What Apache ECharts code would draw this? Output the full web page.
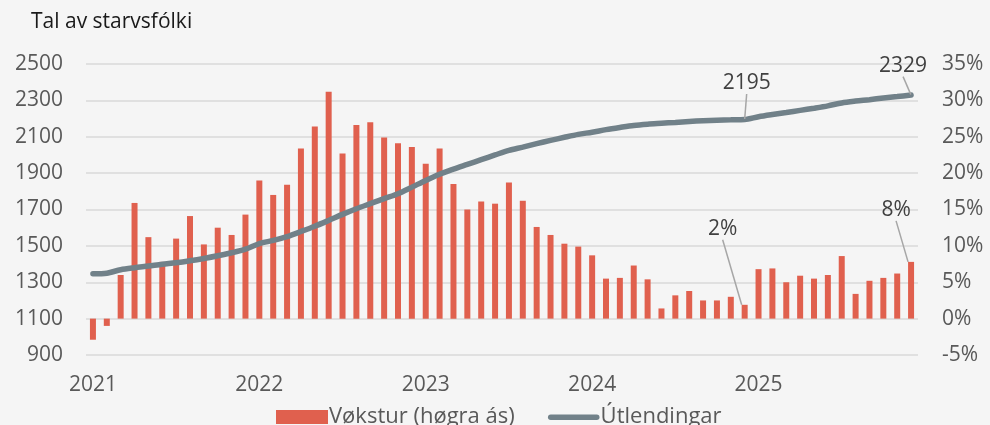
<!DOCTYPE html>
<html>
<head>
<meta charset="utf-8">
<script src="https://cdn.jsdelivr.net/npm/echarts@6/dist/echarts.min.js"></script>
<style>
  html, body { margin: 0; padding: 0; background: #f5f5f5; }
  #chart { width: 990px; height: 425px; }
</style>
</head>
<body>
<div id="chart"></div>
<script>
// ár og mánaðir
var years = ["2021", "2022", "2023", "2024", "2025"];
var months = ["01", "02", "03", "04", "05", "06", "07", "08", "09", "10", "11", "12"];

// vøkstur í % (høgra ás)
var growth = [
  -2.9, -1.0, 6.0, 15.9, 11.2, 7.8, 11.0, 14.1, 10.2, 12.5, 11.5, 14.3,
  19.0, 17.0, 18.4, 23.4, 26.4, 31.2, 22.7, 26.6, 27.0, 24.9, 24.1, 23.6,
  21.3, 23.4, 18.5, 15.0, 16.1, 15.8, 18.7, 16.2, 12.6, 11.5, 10.3, 9.9,
  8.7, 5.5, 5.6, 7.3, 5.4, 1.4, 3.2, 3.8, 2.5, 2.5, 3.0, 1.9,
  6.8, 6.9, 5.0, 5.9, 5.5, 6.0, 8.6, 3.4, 5.2, 5.6, 6.2, 7.8
];

// útlendingar (vinstra ás)
var foreigners = [
  1347, 1350, 1369, 1380, 1389, 1399, 1407, 1418, 1431, 1446, 1462, 1482,
  1513, 1530, 1551, 1579, 1608, 1640, 1673, 1704, 1732, 1760, 1787, 1823,
  1860, 1894, 1922, 1948, 1974, 2000, 2025, 2043, 2062, 2080, 2097, 2113,
  2125, 2139, 2151, 2162, 2169, 2174, 2179, 2184, 2188, 2191, 2193, 2195,
  2210, 2222, 2233, 2245, 2257, 2270, 2286, 2296, 2304, 2313, 2321, 2329
];

// punktir við merking
var growthLabelIdx = [47, 59];
var foreignLabelIdx = [47, 59];

var leftTicks = [900, 1100, 1300, 1500, 1700, 1900, 2100, 2300, 2500];
var rightTicks = [-5, 0, 5, 10, 15, 20, 25, 30, 35];

var categories = [];
years.forEach(function (y) {
  months.forEach(function (m) { categories.push(y + "-" + m); });
});

var font = "'Open Sans', Roboto, sans-serif";
var barColor = "#e0604e";
var lineColor = "#718189";

var barData = growth.map(function (v, i) {
  if (growthLabelIdx.indexOf(i) >= 0) {
    return { value: v, label: { show: true, formatter: Math.round(v) + "%" } };
  }
  return v;
});
var lineData = foreigners.map(function (v, i) {
  if (foreignLabelIdx.indexOf(i) >= 0) {
    return { value: v, symbol: "circle", symbolSize: 1, label: { show: true, formatter: String(v) } };
  }
  return v;
});

var chart = echarts.init(document.getElementById("chart"));
chart.setOption({
  backgroundColor: "#f5f5f5",
  animation: false,
  title: {
    text: "Tal av starvsfólki",
    left: 26, top: 7,
    textStyle: { fontFamily: font, fontSize: 21, fontWeight: "normal", color: "#1a1a1a" }
  },
  legend: {
    left: 271, top: 401,
    itemWidth: 52, itemHeight: 14, itemGap: 33,
    textStyle: { fontFamily: font, fontSize: 22, color: "#595959", padding: [0, 0, 0, -4] },
    data: [
      { name: "Vøkstur (høgra ás)", icon: "rect" },
      { name: "Útlendingar", icon: "path://M0,0L0,0M0,14L0,14M3,4.5L49,4.5A2.75,2.75,0,0,1,49,10L3,10A2.75,2.75,0,0,1,3,4.5Z" }
    ]
  },
  grid: { left: 86, right: 72, top: 64, bottom: 70 },
  xAxis: {
    type: "category",
    data: categories,
    axisLine: { show: false },
    axisTick: { show: false },
    axisLabel: {
      interval: function (i) { return i % 12 === 0; },
      formatter: function (v) { return v.slice(0, 4); },
      margin: 20,
      fontFamily: font, fontSize: 21, color: "#595959"
    }
  },
  yAxis: [
    {
      type: "value",
      min: leftTicks[0], max: leftTicks[leftTicks.length - 1],
      interval: leftTicks[1] - leftTicks[0],
      axisLabel: {
        margin: 23, fontFamily: font, fontSize: 21, color: "#595959",
        formatter: function (v) { return String(v); }
      },
      splitLine: { show: true, lineStyle: { color: "#d9d9d9", width: 1.5 } },
      axisLine: { show: false }, axisTick: { show: false }
    },
    {
      type: "value",
      min: rightTicks[0], max: rightTicks[rightTicks.length - 1],
      interval: rightTicks[1] - rightTicks[0],
      axisLabel: { margin: 24, formatter: "{value}%", fontFamily: font, fontSize: 21, color: "#595959" },
      splitLine: { show: false },
      axisLine: { show: false }, axisTick: { show: false }
    }
  ],
  series: [
    {
      name: "Vøkstur (høgra ás)",
      type: "bar",
      yAxisIndex: 1,
      barWidth: 6,
      data: barData,
      itemStyle: { color: barColor },
      label: {
        show: false, position: "top",
        fontFamily: font, fontSize: 21, color: "#404040"
      },
      labelLine: { show: true, lineStyle: { color: "#a6a6a6", width: 1.5 } },
      labelLayout: function (p) {
        if (p.dataIndex === 47) return { dx: -22, dy: -60 };
        if (p.dataIndex === 59) return { dx: -15, dy: -36 };
        return {};
      }
    },
    {
      name: "Útlendingar",
      type: "line",
      yAxisIndex: 0,
      data: lineData,
      symbol: "none",
      showAllSymbol: true,
      smooth: 0.3,
      lineStyle: { color: lineColor, width: 5.5, cap: "round" },
      itemStyle: { color: lineColor },
      label: {
        show: false, position: "top",
        fontFamily: font, fontSize: 21, color: "#404040"
      },
      labelLine: { show: true, lineStyle: { color: "#a6a6a6", width: 1.5 } },
      labelLayout: function (p) {
        if (p.dataIndex === 47) return { dx: 2, dy: -20 };
        if (p.dataIndex === 59) return { dx: -8, dy: -13 };
        return {};
      }
    }
  ]
});
</script>
</body>
</html>
